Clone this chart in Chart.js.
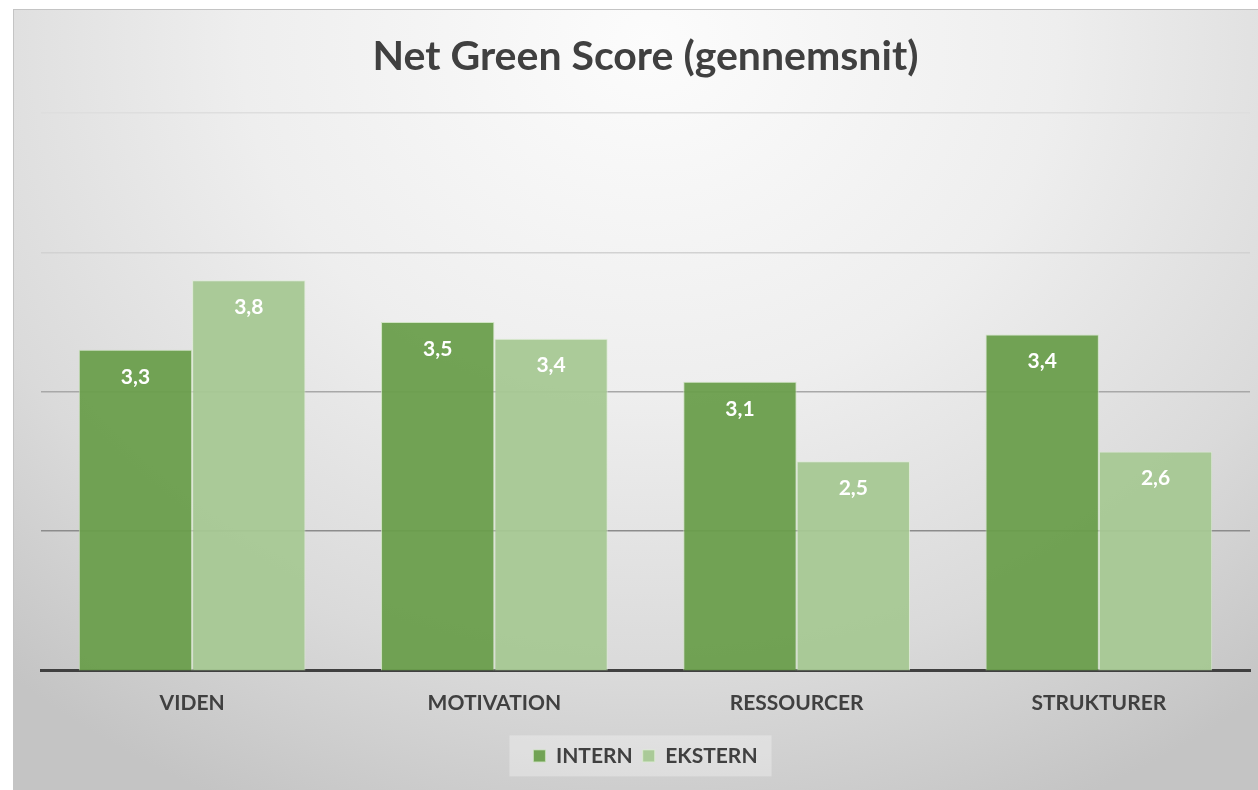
<!DOCTYPE html>
<html>
<head>
<meta charset="utf-8">
<script src="https://cdn.jsdelivr.net/npm/chart.js@4"></script>
<style>
  body { margin: 0; background: #fff; }
  #wrap { position: relative; width: 1258px; height: 790px; overflow: hidden; }
  #frame {
    position: absolute; left: 13px; top: 9px; width: 1245px; height: 781px;
    border-top: 1px solid #c4c4c4; border-left: 1px solid #c4c4c4;
    background: radial-gradient(ellipse 78% 108% at 51% 4%, #fcfcfc 0%, #eeeeee 42%, #dadada 75%, #c4c4c4 100%);
  }
  canvas { position: absolute; left: 0; top: 0; }
</style>
</head>
<body>
<div id="wrap">
  <div id="frame"></div>
  <canvas id="chart" width="1258" height="790"></canvas>
</div>
<script>
// Data
const categories = ['VIDEN', 'MOTIVATION', 'RESSOURCER', 'STRUKTURER'];
const internValues = [3.30, 3.50, 3.07, 3.41];
const eksternValues = [3.80, 3.38, 2.50, 2.57];
const seriesNames = ['INTERN', 'EKSTERN'];
const yTicks = [1, 2, 3, 4, 5];

const FONT = 'Lato, "Open Sans", sans-serif';
const gridColors = { 1: 'rgba(0,0,0,0)', 2: '#8c8c8c', 3: '#a8a8a8', 4: '#d2d2d2', 5: '#dedede' };

// value labels inside top of bars, Danish decimal comma
const barLabels = {
    id: 'barLabels',
    afterDatasetsDraw(chart) {
        const ctx = chart.ctx;
        ctx.save();
        ctx.fillStyle = '#ffffff';
        ctx.font = 'bold 21px ' + FONT;
        ctx.textAlign = 'center';
        ctx.textBaseline = 'middle';
        chart.data.datasets.forEach((ds, i) => {
            chart.getDatasetMeta(i).data.forEach((bar, j) => {
                const txt = ds.data[j].toFixed(1).replace('.', ',');
                ctx.fillText(txt, bar.x, bar.y + 27);
            });
        });
        ctx.restore();
    }
};

// light box behind the legend
const legendBox = {
    id: 'legendBox',
    beforeDraw(chart) {
        const boxes = chart.legend && chart.legend.legendHitBoxes;
        if (!boxes || !boxes.length) return;
        const left = Math.min(...boxes.map(b => b.left)) - 24;
        const right = Math.max(...boxes.map(b => b.left + b.width)) + 14;
        const top = Math.min(...boxes.map(b => b.top));
        const bottom = Math.max(...boxes.map(b => b.top + b.height));
        const ctx = chart.ctx;
        ctx.save();
        ctx.fillStyle = 'rgba(255,255,255,0.3)';
        ctx.fillRect(left, top - 10, right - left, bottom - top + 20);
        ctx.restore();
    }
};

const ctx = document.getElementById('chart').getContext('2d');

const chart = new Chart(ctx, {
    type: 'bar',
    data: {
        labels: categories,
        datasets: [{
            label: seriesNames[0],
            data: internValues,
            backgroundColor: 'rgba(106,158,76,0.95)',
            borderColor: 'rgba(200,225,185,0.8)',
            borderWidth: 1,
            categoryPercentage: 0.75,
            barPercentage: 1.0
        }, {
            label: seriesNames[1],
            data: eksternValues,
            backgroundColor: 'rgba(166,200,148,0.95)',
            borderColor: 'rgba(220,236,210,0.8)',
            borderWidth: 1,
            categoryPercentage: 0.75,
            barPercentage: 1.0
        }]
    },
    options: {
        responsive: false,
        animation: false,
        layout: { padding: { left: 41, right: 8, top: 0, bottom: 13.6 } },
        plugins: {
            title: {
                display: true,
                text: 'Net Green Score (gennemsnit)',
                color: '#404040',
                font: { family: FONT, size: 41, weight: 'bold' },
                padding: { top: 32, bottom: 31.8 }
            },
            legend: {
                position: 'bottom',
                labels: {
                    color: '#404040',
                    font: { family: FONT, size: 21, weight: 'bold' },
                    boxWidth: 12,
                    boxHeight: 12,
                    padding: 10
                }
            },
            tooltip: { enabled: false }
        },
        scales: {
            x: {
                grid: { display: false, drawTicks: false },
                border: { display: true, color: '#404040', width: 3 },
                ticks: {
                    color: '#404040',
                    font: { family: FONT, size: 21, weight: 'bold' },
                    padding: 20,
                    maxRotation: 0
                },
                afterFit(scale) { scale.height += 0; }
            },
            y: {
                min: yTicks[0],
                max: yTicks[yTicks.length - 1],
                afterBuildTicks(scale) { scale.ticks = yTicks.map(v => ({ value: v })); },
                ticks: { display: false },
                border: { display: false },
                grid: {
                    drawTicks: false,
                    lineWidth: 1.5,
                    color: c => gridColors[c.tick.value] || '#bbbbbb'
                }
            }
        }
    },
    plugins: [barLabels, legendBox]
});
</script>
</body>
</html>
